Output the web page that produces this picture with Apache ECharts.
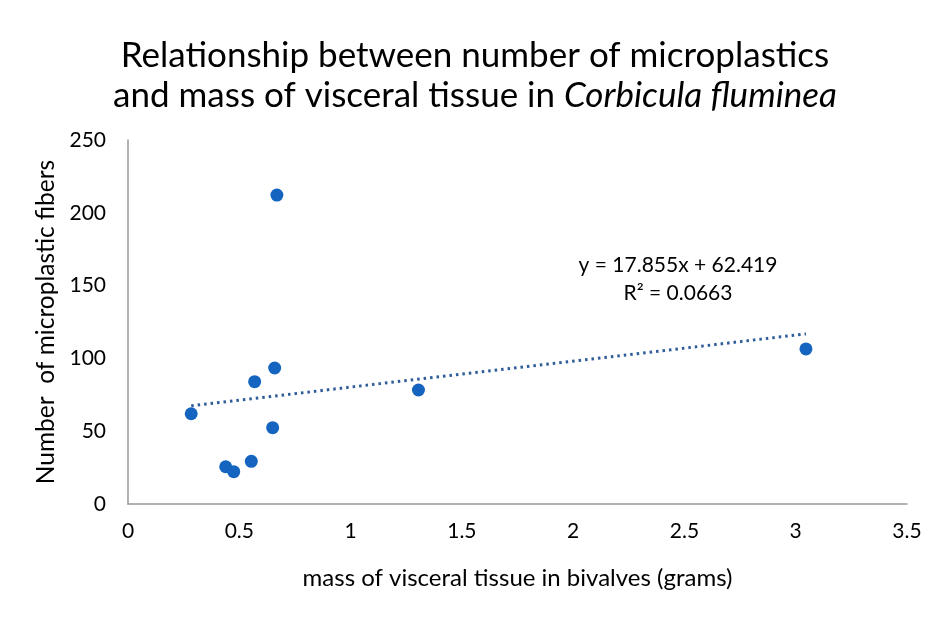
<!DOCTYPE html>
<html>

<head>
    <meta charset="utf-8">
    <script src="https://cdn.jsdelivr.net/npm/echarts@6/dist/echarts.min.js"></script>
    <style>
        html, body, #chart {
            width: 100%;
            height: 100%;
            margin: 0px;
            background: #fff;
        }
    </style>
</head>

<body>
    <div id="chart"></div>
    <script>
        // mass of visceral tissue (g) and number of fibers
        var massGrams = [0.284, 0.439, 0.475, 0.554, 0.569, 0.650, 0.659, 0.669, 1.305, 3.046];
        var fiberCount = [62, 25.6, 22.2, 29.3, 84, 52.4, 93.4, 212.2, 78.3, 106.5];
        var xTicks = [0, 0.5, 1, 1.5, 2, 2.5, 3, 3.5];
        var yTicks = [0, 50, 100, 150, 200, 250];
        // linear trend line as printed on the chart
        var slope = 17.855;
        var intercept = 62.419;
        var rSquared = 0.0663;

        var font = 'Lato, "Open Sans", sans-serif';
        var points = massGrams.map(function (m, i) { return [m, fiberCount[i]]; });
        var xMin = Math.min.apply(null, massGrams);
        var xMax = Math.max.apply(null, massGrams);
        var trend = [[xMin, slope * xMin + intercept], [xMax, slope * xMax + intercept]];

        var myChart = echarts.init(document.getElementById('chart'));
        var option = {
            backgroundColor: '#fff',
            animation: false,
            title: {
                text: '{n|Relationship between number of microplastics}\n{n|and mass of visceral tissue in }{i|Corbicula fluminea}',
                left: 'center',
                top: 31,
                textStyle: {
                    fontWeight: 'normal',
                    rich: {
                        n: { fontFamily: font, fontSize: 35, fontWeight: 'normal', color: '#000', lineHeight: 40 },
                        i: { fontFamily: font, fontSize: 35, fontWeight: 'normal', color: '#000', lineHeight: 40, fontStyle: 'italic' }
                    }
                }
            },
            grid: { left: 128, right: 43, top: 140, bottom: 117 },
            xAxis: {
                type: 'value',
                min: xTicks[0],
                max: xTicks[xTicks.length - 1],
                interval: 0.5,
                name: 'mass of visceral tissue in bivalves (grams)',
                nameLocation: 'middle',
                nameGap: 62,
                nameTextStyle: { fontFamily: font, fontSize: 24, color: '#000' },
                splitLine: { show: false },
                axisTick: { show: false },
                axisLine: { lineStyle: { color: '#999', width: 1.5 } },
                axisLabel: { fontFamily: font, fontSize: 21, color: '#000', margin: 17 }
            },
            yAxis: {
                type: 'value',
                min: yTicks[0],
                max: yTicks[yTicks.length - 1],
                interval: 50,
                name: 'Number  of microplastic fibers',
                nameLocation: 'middle',
                nameGap: 69,
                nameTextStyle: { fontFamily: font, fontSize: 24.5, color: '#000' },
                splitLine: { show: false },
                axisTick: { show: false },
                axisLine: { show: true, lineStyle: { color: '#999', width: 1.5 } },
                axisLabel: { fontFamily: font, fontSize: 21, color: '#000', margin: 22 }
            },
            series: [
                {
                    type: 'line',
                    data: trend,
                    symbol: 'none',
                    lineStyle: { type: [2.5, 4], width: 3, color: '#2f5d99' },
                    z: 1
                },
                {
                    type: 'scatter',
                    data: points,
                    symbolSize: 13,
                    itemStyle: { color: '#1565c0', opacity: 1 },
                    z: 2
                }
            ],
            graphic: [
                {
                    type: 'text',
                    x: 678,
                    y: 265,
                    style: {
                        text: 'y = ' + slope + 'x + ' + intercept,
                        align: 'center', verticalAlign: 'middle',
                        fontFamily: font, fontSize: 21, fill: '#000'
                    }
                },
                {
                    type: 'text',
                    x: 678,
                    y: 293,
                    style: {
                        text: 'R² = ' + rSquared,
                        align: 'center', verticalAlign: 'middle',
                        fontFamily: font, fontSize: 21, fill: '#000'
                    }
                }
            ]
        };
        option && myChart.setOption(option);
    </script>
</body>

</html>
